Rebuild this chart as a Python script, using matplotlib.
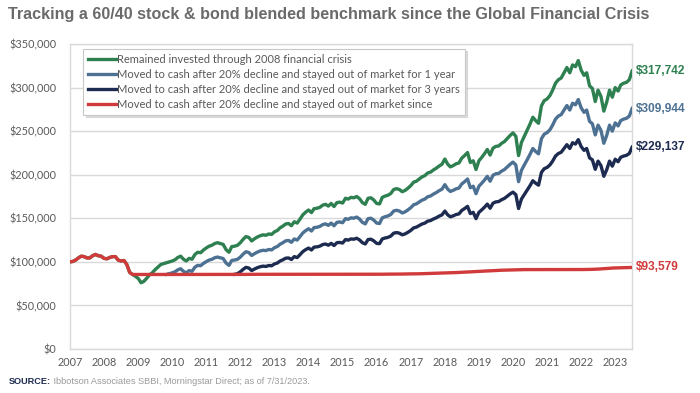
import numpy as np
import pandas as pd
import matplotlib
matplotlib.use("Agg")
import matplotlib.pyplot as plt
from matplotlib.ticker import FuncFormatter

# ---------------- data (values in $ thousands, monthly) ----------------
green_start = "2007-01-01"
green_vals = [
    100, 100.5, 102, 104.5, 106.5, 106, 104.5, 104.5, 107, 108.5, 107, 106.5,      # 2007
    104, 103.5, 105, 106, 106, 102, 101, 101.5, 97, 88, 85.5, 83.5,                # 2008
    81, 76, 77.5, 81, 85, 87.5, 91, 94, 97, 98, 99, 100,                           # 2009
    101, 102.5, 105, 106.5, 103, 101, 104, 103, 108.5, 111, 110.5, 113.5,          # 2010
    116, 118, 119, 121, 122, 121, 120, 114, 111, 117.5, 118, 119,                  # 2011
    122, 126, 129, 128, 124, 126.5, 128.5, 130, 131, 130.5, 132, 131.5,            # 2012
    134.5, 136, 139, 141, 143.5, 144, 141.5, 146, 144.5, 149, 154, 157,            # 2013
    159.5, 156.5, 161, 161.5, 162.5, 165, 166, 164, 167, 163.5, 168, 168.5,        # 2014
    167.5, 173, 172, 174, 173.5, 175, 172.5, 168, 166, 173, 173.5, 171,            # 2015
    167, 166.5, 174, 175.5, 176.5, 178.5, 183, 184, 183, 180.5, 182, 184.5,        # 2016
    187.5, 191.5, 192.5, 195, 197.5, 199, 202, 203, 205.5, 207.5, 210, 212,        # 2017
    218, 212, 209, 210.5, 212.5, 213.5, 219, 222, 225.5, 214, 216, 206,            # 2018
    216, 220, 224, 229, 222.5, 230.5, 232.5, 233, 236, 238, 241.5, 245,            # 2019
    248, 244, 222, 237, 244, 251, 258, 266, 262, 259, 279, 285,                    # 2020
    287, 291, 297, 305, 309, 311, 317, 323, 317, 326, 324, 331,                    # 2021
    320, 314, 317, 302, 299, 284, 297, 290, 273, 283, 297, 289,                    # 2022
    300, 296, 303, 305, 306, 309, 319,                                             # 2023
]

blue_start = "2009-11-01"
blue_vals = [
    85.6, 86.5,                                                                     # 2009
    87.4, 88.7, 90.8, 92.1, 89.1, 87.4, 90.0, 89.1, 93.9, 96.0, 95.6, 98.2,         # 2010
    100.3, 102.1, 102.9, 104.7, 105.5, 104.7, 103.8, 98.6, 96.0, 101.6, 102.1, 102.9,  # 2011
    105.5, 109.0, 111.6, 110.7, 107.3, 109.4, 111.2, 112.5, 113.3, 112.9, 114.2, 113.7,  # 2012
    116.3, 117.6, 120.2, 122.0, 124.1, 124.6, 122.4, 126.3, 125.0, 128.9, 133.2, 135.8,  # 2013
    138.0, 135.4, 139.3, 139.7, 140.6, 142.7, 143.6, 141.9, 144.5, 141.4, 145.3, 145.8,  # 2014
    144.9, 149.6, 148.8, 150.5, 150.1, 151.4, 149.2, 145.3, 143.6, 149.6, 150.1, 147.9,  # 2015
    144.5, 144.0, 150.5, 151.8, 152.7, 154.4, 158.3, 159.2, 158.3, 156.1, 157.4, 159.6,  # 2016
    162.2, 165.6, 166.5, 168.7, 170.8, 172.1, 174.7, 175.6, 177.8, 179.5, 181.7, 183.4,  # 2017
    188.6, 183.4, 180.8, 182.1, 183.8, 184.7, 189.4, 192.0, 195.1, 185.1, 186.8, 178.2,  # 2018
    186.8, 190.3, 193.8, 198.1, 192.5, 199.4, 201.1, 201.5, 204.1, 205.9, 208.9, 211.9,  # 2019
    214.5, 211.1, 192.0, 205.0, 211.1, 217.1, 223.2, 230.1, 226.6, 224.0, 241.3, 246.5,  # 2020
    248.3, 251.7, 256.9, 263.8, 267.3, 269.0, 274.2, 279.4, 274.2, 282.0, 280.3, 286.3,  # 2021
    276.8, 271.6, 274.2, 261.2, 258.6, 245.7, 256.9, 250.9, 236.1, 244.8, 256.9, 250.0,  # 2022
    259.5, 256.0, 262.1, 263.8, 264.7, 267.3, 275.9,                                      # 2023
]

navy_start = "2011-11-01"
navy_vals = [
    85.7, 86.4,                                                                     # 2011
    88.6, 91.5, 93.7, 92.9, 90.0, 91.8, 93.3, 94.4, 95.1, 94.7, 95.8, 95.5,         # 2012
    97.6, 98.7, 100.9, 102.4, 104.2, 104.5, 102.7, 106.0, 104.9, 108.2, 111.8, 114.0,  # 2013
    115.8, 113.6, 116.9, 117.2, 118.0, 119.8, 120.5, 119.1, 121.2, 118.7, 122.0, 122.3,  # 2014
    121.6, 125.6, 124.9, 126.3, 126.0, 127.1, 125.2, 122.0, 120.5, 125.6, 126.0, 124.1,  # 2015
    121.2, 120.9, 126.3, 127.4, 128.1, 129.6, 132.9, 133.6, 132.9, 131.0, 132.1, 133.9,  # 2016
    136.1, 139.0, 139.8, 141.6, 143.4, 144.5, 146.7, 147.4, 149.2, 150.6, 152.5, 153.9,  # 2017
    158.3, 153.9, 151.7, 152.8, 154.3, 155.0, 159.0, 161.2, 163.7, 155.4, 156.8, 149.6,  # 2018
    156.8, 159.7, 162.6, 166.3, 161.5, 167.3, 168.8, 169.2, 171.3, 172.8, 175.3, 177.9,  # 2019
    180.0, 177.1, 161.2, 172.1, 177.1, 182.2, 187.3, 193.1, 190.2, 188.0, 202.6, 206.9,  # 2020
    208.4, 211.3, 215.6, 221.4, 224.3, 225.8, 230.1, 234.5, 230.1, 236.7, 235.2, 240.3,  # 2021
    232.3, 228.0, 230.1, 219.3, 217.1, 206.2, 215.6, 210.5, 198.2, 205.5, 215.6, 209.8,  # 2022
    217.8, 214.9, 220.0, 221.4, 222.2, 224.3, 231.6,                                      # 2023
]

red_start = "2007-01-01"
red_vals = [
    100, 100.5, 102, 104.5, 106.5, 106, 104.5, 104.5, 107, 108.5, 107, 106.5,      # 2007
    104, 103.5, 105, 106, 106, 102, 101, 101.5, 97, 88, 85.5, 85.5,                # 2008
    85.5, 85.5, 85.5, 85.6, 85.6, 85.6, 85.6, 85.6, 85.6, 85.6, 85.6, 85.6,        # 2009
    85.6, 85.6, 85.6, 85.6, 85.6, 85.6, 85.6, 85.6, 85.6, 85.6, 85.6, 85.6,        # 2010
    85.6, 85.6, 85.6, 85.6, 85.6, 85.6, 85.6, 85.6, 85.6, 85.6, 85.6, 85.6,        # 2011
    85.6, 85.6, 85.6, 85.7, 85.7, 85.7, 85.7, 85.7, 85.7, 85.7, 85.7, 85.7,        # 2012
    85.7, 85.7, 85.7, 85.7, 85.7, 85.7, 85.7, 85.7, 85.7, 85.7, 85.7, 85.7,        # 2013
    85.7, 85.7, 85.7, 85.7, 85.7, 85.7, 85.7, 85.7, 85.7, 85.7, 85.7, 85.7,        # 2014
    85.7, 85.7, 85.7, 85.7, 85.7, 85.7, 85.7, 85.7, 85.7, 85.7, 85.8, 85.8,        # 2015
    85.8, 85.8, 85.8, 85.9, 85.9, 85.9, 85.9, 86.0, 86.0, 86.0, 86.1, 86.1,        # 2016
    86.2, 86.2, 86.3, 86.3, 86.4, 86.5, 86.6, 86.7, 86.8, 86.9, 87.0, 87.1,        # 2017
    87.2, 87.3, 87.4, 87.6, 87.7, 87.9, 88.0, 88.2, 88.3, 88.5, 88.7, 88.8,        # 2018
    89.0, 89.2, 89.4, 89.5, 89.7, 89.9, 90.1, 90.2, 90.4, 90.5, 90.7, 90.8,        # 2019
    90.9, 91.0, 91.1, 91.1, 91.1, 91.1, 91.1, 91.1, 91.1, 91.1, 91.1, 91.1,        # 2020
    91.1, 91.1, 91.1, 91.1, 91.1, 91.1, 91.1, 91.1, 91.2, 91.2, 91.2, 91.2,        # 2021
    91.2, 91.2, 91.3, 91.3, 91.4, 91.5, 91.7, 91.9, 92.1, 92.3, 92.6, 92.9,        # 2022
    93.0, 93.1, 93.2, 93.3, 93.4, 93.5, 93.579,                                    # 2023
]

series_labels = [
    "Remained invested through 2008 financial crisis",
    "Moved to cash after 20% decline and stayed out of market for 1 year",
    "Moved to cash after 20% decline and stayed out of market for 3 years",
    "Moved to cash after 20% decline and stayed out of market since",
]
end_labels = ["$317,742", "$309,944", "$229,137", "$93,579"]
year_ticks = list(range(2007, 2024))
y_ticks = [0, 50000, 100000, 150000, 200000, 250000, 300000, 350000]

title = "Tracking a 60/40 stock & bond blended benchmark since the Global Financial Crisis"
source_bold = "SOURCE:"
source_rest = " Ibbotson Associates SBBI, Morningstar Direct; as of 7/31/2023."

# ---------------- styling ----------------
colors = ["#2e8050", "#4d7192", "#1d2b50", "#d13a3a"]
grey_txt = "#595959"
grid_col = "#d9d9d9"

fig = plt.figure(figsize=(7.0, 3.93), dpi=100)
ax = fig.add_axes([0.1, 0.112, 0.803, 0.776])

series = [
    (green_start, green_vals),
    (blue_start, blue_vals),
    (navy_start, navy_vals),
    (red_start, red_vals),
]
for (start, vals), col, lab, endlab in zip(series, colors, series_labels, end_labels):
    dates = pd.date_range(start, periods=len(vals), freq="MS")
    y = np.asarray(vals, dtype=float) * 1000
    ax.plot(dates, y, color=col, lw=2.4, label=lab, solid_joinstyle="round", zorder=3)
    ax.annotate(endlab, xy=(dates[-1], y[-1]), xytext=(2.5, 0), textcoords="offset points",
                ha="left", va="center", color=col, fontsize=8.6, fontweight="bold",
                family="Liberation Sans", annotation_clip=False)

ax.set_xlim(pd.Timestamp("2007-01-01"), pd.Timestamp("2023-07-01"))
ax.set_ylim(0, 350000)
ax.set_yticks(y_ticks)
ax.yaxis.set_major_formatter(FuncFormatter(lambda v, p: "${:,.0f}".format(v)))
ax.set_xticks([pd.Timestamp(f"{yr}-01-01") for yr in year_ticks])
ax.set_xticklabels([str(yr) for yr in year_ticks])
ax.tick_params(axis="both", length=0, labelsize=7.8, labelcolor=grey_txt)
ax.tick_params(axis="y", pad=10)
ax.tick_params(axis="x", pad=6)
for lbl in ax.get_xticklabels() + ax.get_yticklabels():
    lbl.set_family("Lato")
ax.grid(axis="y", color=grid_col, lw=1.0, zorder=0)
for s in ax.spines.values():
    s.set_color(grid_col)
    s.set_linewidth(1.0)

# Legend order: green, blue, navy, red
handles, labels = ax.get_legend_handles_labels()
leg = ax.legend(handles, labels, loc="upper left", bbox_to_anchor=(0.023, 0.985),
                borderaxespad=0, frameon=True, fancybox=False,
                shadow={"color": "0.78", "alpha": 0.6, "ox": 2, "oy": -2},
                prop={"family": "Lato", "size": 8.0}, labelcolor=grey_txt,
                handlelength=2.5, handletextpad=0.1, labelspacing=0.36,
                borderpad=0.45)
leg.get_frame().set_edgecolor("#c8c8c8")
leg.get_frame().set_linewidth(0.8)
leg.set_zorder(5)

fig.text(0.012, 0.963, title, fontsize=11.6, fontweight="bold", color="#6a6a6a",
         family="Liberation Sans", ha="left", va="center")

t1 = fig.text(0.012, 0.03, source_bold, fontsize=6.6, fontweight="bold", color="#1d2b50",
              family=["Liberation Sans Narrow", "Liberation Sans"], ha="left", va="center")
fig.canvas.draw()
bb = t1.get_window_extent()
x_next = bb.x1 / fig.bbox.width
fig.text(x_next, 0.03, source_rest, fontsize=6.6, color="#9a9a9a",
         family=["Liberation Sans Narrow", "Liberation Sans"], ha="left", va="center")

fig.savefig("out.png", dpi=100)
